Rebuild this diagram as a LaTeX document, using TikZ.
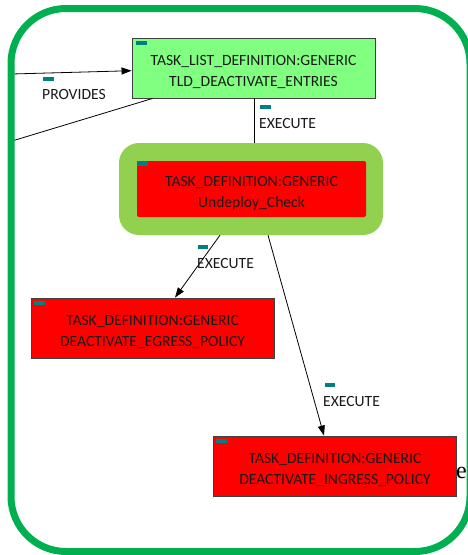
\documentclass[tikz,border=0pt]{standalone}
\usepackage{fontspec}
\setmainfont{Carlito}
\newfontfamily\serifmain{Liberation Serif}
\usetikzlibrary{arrows.meta,calc}
\definecolor{framegreen}{HTML}{00B050}
\definecolor{haloGreen}{HTML}{92D050}
\definecolor{listgreen}{HTML}{80FF80}
\definecolor{taskred}{HTML}{FF0000}
\definecolor{tabteal}{HTML}{008080}
\definecolor{edgegray}{HTML}{404040}
\tikzset{
  x=1pt, y=-1pt,
  box/.style={draw=edgegray, line width=0.9pt, inner sep=0pt},
  listbox/.style={box, fill=listgreen, minimum width=243pt, minimum height=60pt},
  taskbox/.style={box, fill=taskred, minimum width=243pt, minimum height=60pt},
  boxtext/.style={font=\fontsize{15.6}{21}\selectfont, align=center, inner sep=0pt, text=black!90},
  lbl/.style={font=\fontsize{15.6}{18}\selectfont, anchor=west, inner sep=0pt, text=black!90},
  link/.style={draw=black, line width=0.8pt},
  arrowlink/.style={link, -{Triangle[length=10pt,width=7pt]}},
  tab/.style={fill=tabteal}
}
\begin{document}
\begin{tikzpicture}
\useasboundingbox (0,0) rectangle (468,555);
\clip (0,0) rectangle (468,555);

% loose ends of connectors coming from outside the frame
\coordinate (inA) at (12,74);
\coordinate (inB) at (12,141);

% task list definition
\node[listbox] (tld) at (253.5,68) {};
\node[boxtext] (tldtext) at (253.5,72) {TASK\_LIST\_DEFINITION:GENERIC\\TLD\_DEACTIVATE\_ENTRIES};
\fill[tab] ($(tld.north west)+(4,3)$) rectangle ++(11,4);

% highlighted task
\node[fill=haloGreen, rounded corners=20pt, minimum width=264pt, minimum height=92pt, inner sep=0pt] (halo) at (251,189) {};
\node[fill=taskred, rounded corners=2pt, minimum width=229pt, minimum height=56pt, inner sep=0pt] (undeploy) at (251.5,189) {};
\node[boxtext] (undeploytext) at (251.5,193) {TASK\_DEFINITION:GENERIC\\Undeploy\_Check};
\fill[tab] (undeploy.north west) rectangle ++(11,5);

% executed tasks
\node[taskbox] (egress) at (152.5,328) {};
\node[boxtext] (egresstext) at (152.5,332) {TASK\_DEFINITION:GENERIC\\DEACTIVATE\_EGRESS\_POLICY};
\fill[tab] ($(egress.north west)+(3,3)$) rectangle ++(11,4);

\node[taskbox] (ingress) at (335,466) {};
\node[boxtext] (ingresstext) at (335,470) {TASK\_DEFINITION:GENERIC\\DEACTIVATE\_INGRESS\_POLICY};
\fill[tab] ($(ingress.north west)+(3,3)$) rectangle ++(11,4);

% connectors
\draw[arrowlink] (inA) -- (tld.west |- 0,70.7);
\draw[link] (inB) -- ($(tld.south west)+(21,0)$);
\draw[link] (tld.south -| 254,0) -- (halo.north -| 254,0);
\draw[arrowlink] ($(halo.south)+(-31,0)$) -- ($(egress.north)+(22.5,0)$);
\draw[arrowlink] ($(halo.south)+(17,0)$) -- ($(ingress.north)+(-11,0)$);

% connector labels
\fill[tab] (43,77) rectangle ++(11,4);
\node[lbl] (provides) at (42,94) {PROVIDES};
\fill[tab] (260,105) rectangle ++(11,4);
\node[lbl] (exec1) at (259,123) {EXECUTE};
\fill[tab] (198,245) rectangle ++(10,4);
\node[lbl] (exec2) at (197,263) {EXECUTE};
\fill[tab] (325,383) rectangle ++(10,4);
\node[lbl] (exec3) at (323,401) {EXECUTE};

% enclosing frame
\draw[framegreen, line width=7pt, rounded corners=55pt] (11,8.5) rectangle (470,551.5);

\node[font=\serifmain\fontsize{24}{24}\selectfont, anchor=base west, inner sep=0pt] (etext) at (456,478) {e};
\end{tikzpicture}
\end{document}
